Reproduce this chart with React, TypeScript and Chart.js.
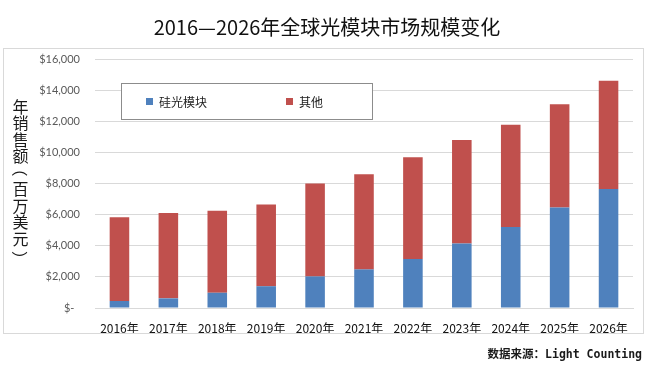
import React, { useEffect, useRef } from "react";
import { Chart, registerables } from "chart.js";

Chart.register(...registerables);

const title = "2016—2026年全球光模块市场规模变化";
const yAxisTitle = "年销售额（百万美元）";
const sourceText = "数据来源：Light Counting";
const categories = ["2016年", "2017年", "2018年", "2019年", "2020年", "2021年", "2022年", "2023年", "2024年", "2025年", "2026年"];
const seriesNames = ["硅光模块", "其他"];
const siliconPhotonics = [450, 620, 980, 1400, 2030, 2480, 3150, 4150, 5200, 6450, 7650];
const others = [5380, 5480, 5270, 5250, 5970, 6120, 6530, 6650, 6580, 6650, 6950];
const yMin = 0;
const yMax = 16000;
const yStep = 2000;

const CJK = "'Noto Sans CJK SC', 'Noto Sans', sans-serif";

const decorPlugin = {
  id: "decor",
  beforeDraw(chart: any) {
    const ctx = chart.ctx;
    ctx.save();
    ctx.fillStyle = "#ffffff";
    ctx.fillRect(0, 0, chart.width, chart.height);
    ctx.restore();
  },
  afterDraw(chart: any) {
    const ctx = chart.ctx;
    ctx.save();
    // outer border
    ctx.strokeStyle = "#d9d9d9";
    ctx.lineWidth = 1;
    ctx.strokeRect(3.5, 48.5, 640, 285);

    // title
    ctx.fillStyle = "#111111";
    ctx.font = `20px ${CJK}`;
    ctx.textAlign = "center";
    ctx.textBaseline = "middle";
    ctx.fillText(title, 327, 27);

    // y axis title (vertical, upright characters)
    ctx.font = `16px ${CJK}`;
    ctx.fillStyle = "#1a1a1a";
    const chars = Array.from(yAxisTitle);
    chars.forEach((ch, i) => {
      const cx = 20.5;
      const cy = 106.5 + i * 16.5;
      if (ch === "（" || ch === "）") {
        ctx.save();
        ctx.translate(cx, cy);
        ctx.rotate(Math.PI / 2);
        ctx.fillText(ch, ch === "（" ? -4 : 4, 0);
        ctx.restore();
      } else {
        ctx.fillText(ch, cx, cy);
      }
    });

    // legend box
    ctx.fillStyle = "#ffffff";
    ctx.fillRect(121.5, 83.5, 251, 36);
    ctx.strokeStyle = "#8c8c8c";
    ctx.strokeRect(121.5, 83.5, 251, 36);
    const ds = chart.data.datasets;
    const legendX = [146, 286];
    ds.forEach((d: any, i: number) => {
      ctx.fillStyle = d.backgroundColor;
      ctx.fillRect(legendX[i], 98, 7, 7);
      ctx.fillStyle = "#1a1a1a";
      ctx.font = `12px ${CJK}`;
      ctx.textAlign = "left";
      ctx.textBaseline = "middle";
      ctx.fillText(d.label, legendX[i] + 13, 102);
    });

    // source
    ctx.font = `bold 11.5px 'DejaVu Sans Mono', ${CJK}`;
    ctx.fillStyle = "#1a1a1a";
    ctx.textAlign = "right";
    ctx.textBaseline = "middle";
    ctx.fillText(sourceText, 642, 355);
    ctx.restore();
  },
};

export default function App() {
  const ref = useRef<HTMLCanvasElement>(null);
  useEffect(() => {
    if (!ref.current) return;
    const chart = new Chart(ref.current, {
      type: "bar",
      data: {
        labels: categories,
        datasets: [
          {
            label: seriesNames[0],
            data: siliconPhotonics,
            backgroundColor: "#4f81bd",
            borderWidth: 0,
            barPercentage: 0.4,
            categoryPercentage: 1.0,
          },
          {
            label: seriesNames[1],
            data: others,
            backgroundColor: "#c0504d",
            borderWidth: 0,
            barPercentage: 0.4,
            categoryPercentage: 1.0,
          },
        ],
      },
      options: {
        responsive: false,
        devicePixelRatio: 1,
        animation: false,
        layout: { padding: { top: 59, right: 17, left: 0, bottom: 0 } },
        plugins: {
          legend: { display: false },
          title: { display: false },
          tooltip: { enabled: false },
        },
        scales: {
          x: {
            stacked: true,
            grid: { display: false },
            border: { display: true, color: "#d9d9d9" },
            ticks: {
              font: { size: 12, family: CJK },
              color: "#111111",
              padding: 5,
              maxRotation: 0,
              autoSkip: false,
            },
            afterFit: (s: any) => {
              s.height = 60;
            },
          },
          y: {
            stacked: true,
            min: yMin,
            max: yMax,
            ticks: {
              stepSize: yStep,
              font: { size: 11, family: "Lato, 'Open Sans', sans-serif" },
              color: "#595959",
              padding: 15,
              callback: (v: any) => (Number(v) === 0 ? "$-  " : "$" + Number(v).toLocaleString("en-US")),
            },
            grid: { color: "#d9d9d9", drawTicks: false },
            border: { display: false },
            afterFit: (s: any) => {
              s.width = 95;
            },
          },
        },
      } as any,
      plugins: [decorPlugin],
    });
    return () => chart.destroy();
  }, []);
  return (
    <div style={{ position: "fixed", left: 0, top: 0, width: 650, height: 368, background: "#fff" }}>
      <canvas ref={ref} width={650} height={368} style={{ display: "block", width: 650, height: 368 }} />
    </div>
  );
}
